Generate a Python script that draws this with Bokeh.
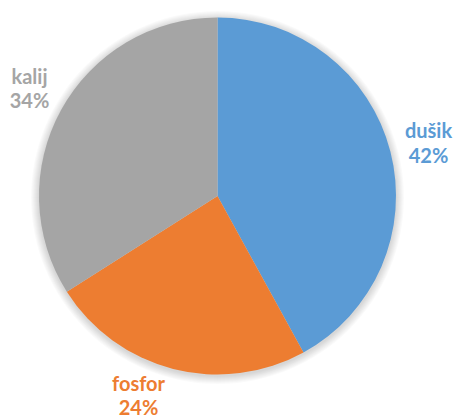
import numpy as np
from bokeh.plotting import figure
from bokeh.models import Range1d, ColumnDataSource
from bokeh.core.properties import value
from bokeh.embed import file_html
from bokeh.resources import INLINE

categories = ["dušik", "fosfor", "kalij"]
shares = [42, 24, 34]
colors = ["#5B9BD5", "#ED7D31", "#A5A5A5"]
pct_labels = ["42%", "24%", "34%"]

W, H = 453, 420
p = figure(frame_width=W, frame_height=H, output_backend="svg", toolbar_location=None,
           x_range=Range1d(0, W), y_range=Range1d(0, H), min_border=0,
           outline_line_color=None, background_fill_color="white")
p.title.visible = False
p.axis.visible = False
p.grid.visible = False

def to_data(sx, sy):
    return sx, H - sy

cx, cy = to_data(217, 195.5)
R = 178.5

# soft shadow
for i in range(8):
    p.circle(x=cx, y=cy - 1.5, radius=R + 1 + i * 1.0, fill_color="black",
             fill_alpha=0.018, line_color=None)

vals = np.array(shares, dtype=float)
frac = vals / vals.sum()
ends = np.cumsum(frac) * 2 * np.pi
starts = ends - frac * 2 * np.pi
start_angle = np.pi / 2 - starts
end_angle = np.pi / 2 - ends

src = ColumnDataSource(dict(start=start_angle, end=end_angle, color=colors))
p.wedge(x=cx, y=cy, radius=R, start_angle="start", end_angle="end",
        direction="clock", fill_color="color", line_color=None, source=src)

# label placement (screen px: center x, name line, pct line)
label_pos = {"dušik": (428, 129, 154), "fosfor": (138, 382, 406), "kalij": (29, 75, 99)}
for cat, pct, col in zip(categories, pct_labels, colors):
    sx, b1, b2 = label_pos[cat]
    x1, y1 = to_data(sx, b1)
    x2, y2 = to_data(sx, b2)
    p.text(x=[x1, x2], y=[y1, y2], text=[cat, pct], text_color=col,
           text_font=value("Lato"), text_font_style="bold", text_font_size="20px",
           text_align="center", text_baseline="alphabetic")

open("out.html", "w").write(file_html(p, INLINE))
